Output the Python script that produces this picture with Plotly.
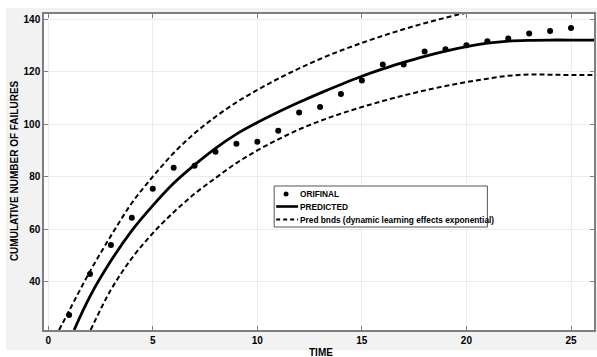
import plotly.graph_objects as go

# Observed data (ORIFINAL)
obs_t = list(range(1, 26))
obs_y = [27.4, 43, 54, 64.4, 75.4, 83.4, 84.2, 89.5, 92.5, 93.3, 97.5, 104.4, 106.5,
         111.5, 116.6, 122.7, 122.7, 127.6, 128.5, 130, 131.5, 132.6, 134.5, 135.4, 136.6]

# Predicted curve
pred_t = [1.24, 2, 3, 4, 5, 6, 7, 8, 9, 10, 11, 12, 13, 14, 15, 16, 17, 18, 19, 20,
          21, 22, 23, 24, 25, 26.2]
pred_y = [21.7, 34.5, 48, 59.5, 69, 77.5, 84.5, 90.8, 96.2, 100.6, 104.6, 108.3, 111.8,
          115.1, 118.2, 121, 123.5, 125.8, 127.8, 129.5, 130.8, 131.6, 131.9, 132, 132, 132]

# Upper prediction bound
up_t = [0.52, 1, 2, 3, 4, 5, 6, 7, 8, 9, 10, 11, 12, 13, 14, 15, 16, 17, 18, 19, 20, 21]
up_y = [21.7, 29, 44, 57.5, 70, 80, 89, 96.5, 102.8, 108.3, 113, 117.3, 121.2,
        124.8, 128, 130.9, 133.6, 136.1, 138.4, 140.5, 142.4, 144]

# Lower prediction bound
lo_t = [2.03, 3, 4, 5, 6, 7, 8, 9, 10, 11, 12, 13, 14, 15, 16, 17, 18, 19, 20, 21,
        22, 23, 24, 25, 26.2]
lo_y = [21.7, 37, 49, 58.5, 66.5, 73.5, 79.5, 85.2, 90, 94.2, 98, 101.2, 104, 106.5,
        108.8, 110.9, 112.8, 114.5, 116, 117.3, 118.4, 118.9, 118.8, 118.7, 118.7]

x_ticks = [0, 5, 10, 15, 20, 25]
y_ticks = [40, 60, 80, 100, 120, 140]

legend_labels = ["ORIFINAL", "PREDICTED", "Pred bnds (dynamic learning effects exponential)"]

FONT = "Liberation Sans"
DASH = "5px,3px"

fig = go.Figure()
fig.add_trace(go.Scatter(x=obs_t, y=obs_y, mode="markers", name=legend_labels[0],
                         marker=dict(color="black", size=6)))
fig.add_trace(go.Scatter(x=pred_t, y=pred_y, mode="lines", name=legend_labels[1],
                         line=dict(color="black", width=2.8, shape="spline")))
fig.add_trace(go.Scatter(x=up_t, y=up_y, mode="lines", name=legend_labels[2],
                         line=dict(color="black", width=2, dash=DASH, shape="spline")))
fig.add_trace(go.Scatter(x=lo_t, y=lo_y, mode="lines", name=legend_labels[2],
                         line=dict(color="black", width=2, dash=DASH, shape="spline")))

L, R, T, B = 44, 1, 14, 27
W, H = 597, 357
pw, ph = W - L - R, H - T - B

def px_x(p):
    return (p - L) / pw

def px_y(p):
    return (H - B - p) / ph

shapes = [
    dict(type="rect", xref="paper", yref="paper", layer="below",
         x0=px_x(6), x1=px_x(600), y0=px_y(350), y1=px_y(8),
         fillcolor="#f2f2f2", line=dict(width=0)),
    dict(type="rect", xref="paper", yref="paper", layer="below",
         x0=0, x1=1, y0=0, y1=1, fillcolor="white", line=dict(width=0)),
    # manual legend box
    dict(type="rect", xref="paper", yref="paper", layer="above",
         x0=px_x(275), x1=px_x(489), y0=px_y(227), y1=px_y(186),
         fillcolor="white", line=dict(color="#555555", width=1)),
    dict(type="circle", xref="paper", yref="paper", layer="above",
         x0=px_x(284.5), x1=px_x(289.5), y0=px_y(196.5), y1=px_y(191.5),
         fillcolor="black", line=dict(width=0)),
    dict(type="line", xref="paper", yref="paper", layer="above",
         x0=px_x(277), x1=px_x(299), y0=px_y(206.5), y1=px_y(206.5),
         line=dict(color="black", width=2.6)),
    dict(type="line", xref="paper", yref="paper", layer="above",
         x0=px_x(277), x1=px_x(299), y0=px_y(219.5), y1=px_y(219.5),
         line=dict(color="black", width=2, dash="4px,3px")),
]

legend_rows = [194, 206.5, 219.5]
annotations = [
    dict(text=lab, xref="paper", yref="paper", x=px_x(299), y=px_y(yy),
         showarrow=False, xanchor="left", yanchor="middle",
         font=dict(family=FONT, size=8.3, color="black", weight="bold"))
    for lab, yy in zip(legend_labels, legend_rows)
]
annotations += [
    dict(text="TIME", xref="paper", yref="paper", x=px_x(322), y=px_y(352),
         showarrow=False, xanchor="center", yanchor="middle",
         font=dict(family=FONT, size=10, color="black", weight="bold")),
    dict(text="CUMULATIVE NUMBER OF FAILURES", xref="paper", yref="paper",
         x=px_x(14), y=px_y(171), textangle=-90,
         showarrow=False, xanchor="center", yanchor="middle",
         font=dict(family=FONT, size=10, color="black", weight="bold")),
]

axis_common = dict(
    showline=True, linecolor="#7f7f7f", linewidth=1.5, mirror="ticks",
    ticks="inside", ticklen=4, tickcolor="#7f7f7f",
    showgrid=True, gridcolor="#ececec", gridwidth=1, zeroline=False,
    tickfont=dict(family=FONT, size=10, color="black", weight="bold"),
)

fig.update_layout(
    width=W, height=H,
    margin=dict(l=L, r=R, t=T, b=B),
    paper_bgcolor="white", plot_bgcolor="white",
    shapes=shapes,
    annotations=annotations,
    showlegend=False,
    xaxis=dict(range=[-0.2, 26.1], tickvals=x_ticks, **axis_common),
    yaxis=dict(range=[21.7, 141.9], tickvals=y_ticks, **axis_common),
)

fig.write_html("out.html")
